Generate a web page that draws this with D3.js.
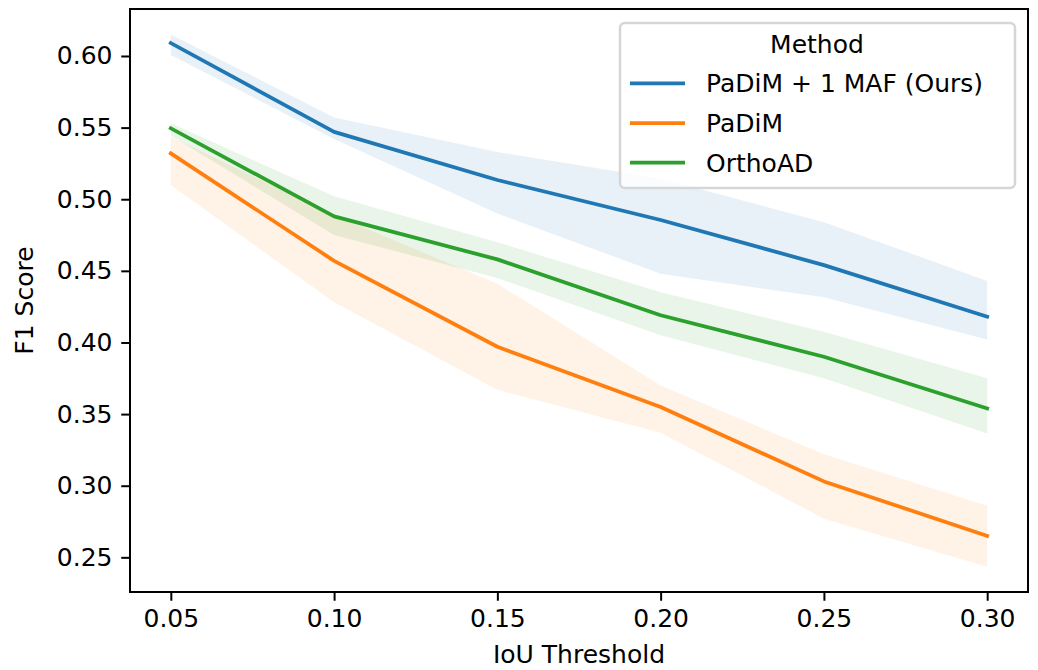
<!DOCTYPE html>
<html>
<head>
<meta charset="utf-8">
<script src="https://cdn.jsdelivr.net/npm/d3@7"></script>
<style>
  html, body { margin: 0; padding: 0; background: #fff; }
  svg { display: block; font-family: "DejaVu Sans", sans-serif; }
</style>
</head>
<body>
<svg id="chart" width="1038" height="670"></svg>
<script>
// IoU thresholds on the x axis
const thresholds = [0.05, 0.10, 0.15, 0.20, 0.25, 0.30];

// F1 score: mean and confidence band per method
const oursMean  = [0.609, 0.547, 0.5134, 0.4855, 0.454, 0.418];
const oursLow   = [0.6007, 0.542, 0.490, 0.448, 0.4315, 0.402];
const oursHigh  = [0.615, 0.557, 0.533, 0.5144, 0.484, 0.443];

const padimMean = [0.532, 0.457, 0.397, 0.355, 0.303, 0.265];
const padimLow  = [0.510, 0.428, 0.367, 0.337, 0.277, 0.2434];
const padimHigh = [0.5437, 0.489, 0.441, 0.370, 0.322, 0.286];

const orthoMean = [0.5495, 0.488, 0.458, 0.419, 0.390, 0.354];
const orthoLow  = [0.5445, 0.475, 0.445, 0.405, 0.375, 0.3365];
const orthoHigh = [0.553, 0.502, 0.470, 0.435, 0.4075, 0.375];

const methodNames = ["PaDiM + 1 MAF (Ours)", "PaDiM", "OrthoAD"];
const methodColors = ["#1f77b4", "#ff7f0e", "#2ca02c"];

const xTicks = [0.05, 0.10, 0.15, 0.20, 0.25, 0.30];
const yTicks = [0.25, 0.30, 0.35, 0.40, 0.45, 0.50, 0.55, 0.60];

const series = [
  { name: methodNames[0], color: methodColors[0], mean: oursMean,  low: oursLow,  high: oursHigh },
  { name: methodNames[1], color: methodColors[1], mean: padimMean, low: padimLow, high: padimHigh },
  { name: methodNames[2], color: methodColors[2], mean: orthoMean, low: orthoLow, high: orthoHigh }
];

const svg = d3.select("#chart");
const plot = { left: 130, right: 1028, top: 9, bottom: 592 };

const x = d3.scaleLinear().domain([0.0375, 0.3125]).range([plot.left, plot.right]);
const y = d3.scaleLinear().domain([0.2258, 0.6328]).range([plot.bottom, plot.top]);

const FONT = 25;

// confidence bands
const area = d3.area()
  .x((d, i) => x(thresholds[i]))
  .y0(d => y(d[0]))
  .y1(d => y(d[1]));

series.forEach(s => {
  svg.append("path")
    .datum(s.low.map((v, i) => [v, s.high[i]]))
    .attr("d", area)
    .attr("fill", s.color)
    .attr("fill-opacity", 0.1)
    .attr("stroke", "none");
});

// mean lines
const line = d3.line()
  .x((d, i) => x(thresholds[i]))
  .y(d => y(d));

series.forEach(s => {
  svg.append("path")
    .datum(s.mean)
    .attr("d", line)
    .attr("fill", "none")
    .attr("stroke", s.color)
    .attr("stroke-width", 3.75)
    .attr("stroke-linejoin", "round")
    .attr("stroke-linecap", "square");
});

// axes
const xAxis = d3.axisBottom(x).tickValues(xTicks).tickFormat(d3.format(".2f"))
  .tickSize(8.75).tickPadding(8.75);
const yAxis = d3.axisLeft(y).tickValues(yTicks).tickFormat(d3.format(".2f"))
  .tickSize(8.75).tickPadding(8.75);

const gx = svg.append("g").attr("transform", `translate(0,${plot.bottom})`).call(xAxis);
const gy = svg.append("g").attr("transform", `translate(${plot.left},0)`).call(yAxis);

[gx, gy].forEach(g => {
  g.select(".domain").remove();
  g.selectAll(".tick line").attr("stroke", "#000").attr("stroke-width", 2);
  g.selectAll(".tick text")
    .attr("fill", "#000")
    .style("font-size", FONT + "px")
    .style("font-family", "'DejaVu Sans', sans-serif");
});
gx.selectAll(".tick text").attr("dy", "0.71em");

// frame
svg.append("rect")
  .attr("x", plot.left).attr("y", plot.top)
  .attr("width", plot.right - plot.left).attr("height", plot.bottom - plot.top)
  .attr("fill", "none").attr("stroke", "#000").attr("stroke-width", 2);

// axis titles
svg.append("text")
  .attr("x", (plot.left + plot.right) / 2).attr("y", 663)
  .attr("text-anchor", "middle")
  .style("font-size", FONT + "px")
  .text("IoU Threshold");

svg.append("text")
  .attr("transform", `translate(32.5,${(plot.top + plot.bottom) / 2}) rotate(-90)`)
  .attr("text-anchor", "middle")
  .style("font-size", FONT + "px")
  .text("F1 Score");

// legend
const lg = svg.append("g");
lg.append("rect")
  .attr("x", 620).attr("y", 23).attr("width", 395).attr("height", 165)
  .attr("rx", 5).attr("ry", 5)
  .attr("fill", "#fff").attr("fill-opacity", 0.8)
  .attr("stroke", "#d6d6d6").attr("stroke-width", 2.5);

lg.append("text")
  .attr("x", 817).attr("y", 53)
  .attr("text-anchor", "middle")
  .style("font-size", FONT + "px")
  .text("Method");

series.forEach((s, i) => {
  const cy = 83.3 + i * 39.7;
  lg.append("line")
    .attr("x1", 630).attr("x2", 685)
    .attr("y1", cy).attr("y2", cy)
    .attr("stroke", s.color).attr("stroke-width", 3.75);
  lg.append("text")
    .attr("x", 706).attr("y", cy).attr("dy", "0.36em")
    .style("font-size", FONT + "px")
    .text(s.name);
});
</script>
</body>
</html>
